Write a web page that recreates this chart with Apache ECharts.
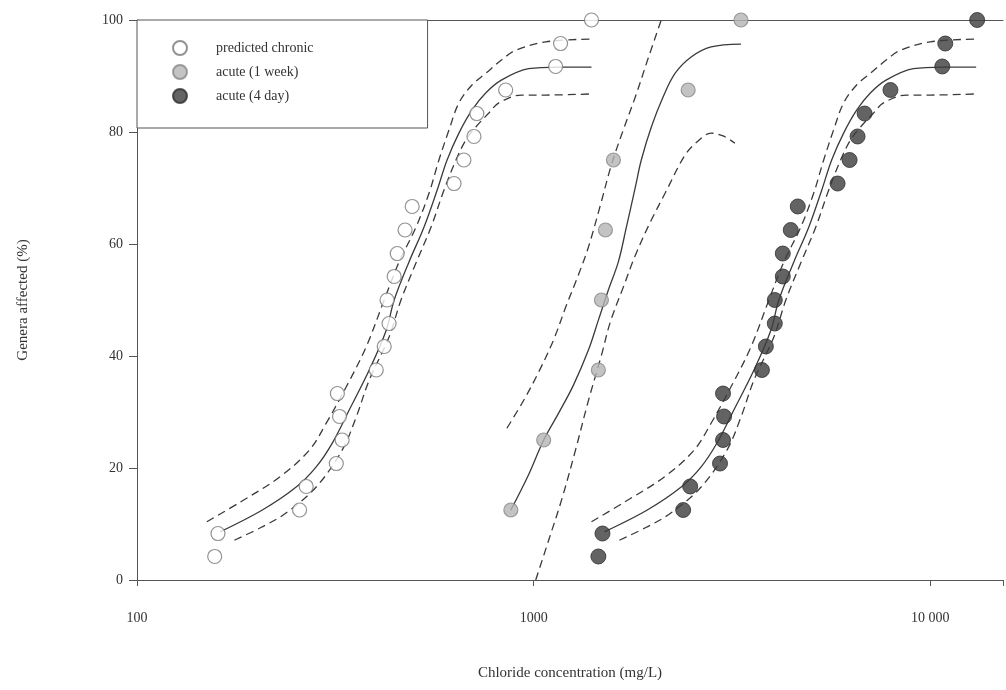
<!DOCTYPE html>
<html>
<head>
<meta charset="utf-8">
<script src="https://cdn.jsdelivr.net/npm/echarts@6/dist/echarts.min.js"></script>
<style>
  html, body { margin: 0; padding: 0; background: #fff; }
  #chart { width: 1006px; height: 690px; }
</style>
</head>
<body>
<div id="chart"></div>
<script>
// Observed points: [chloride mg/L, % genera affected]
const chronicPts = [
  [157, 4.2], [160, 8.3], [257, 12.5], [267, 16.7], [318, 20.8], [329, 25.0],
  [324, 29.2], [320, 33.3], [401, 37.5], [420, 41.7], [432, 45.8], [427, 50.0],
  [445, 54.2], [453, 58.3], [474, 62.5], [494, 66.7], [630, 70.8], [667, 75.0],
  [707, 79.2], [719, 83.3], [850, 87.5], [1136, 91.7], [1169, 95.8], [1399, 100]
];
const acute1wPts = [
  [876, 12.5], [1060, 25.0], [1456, 37.5], [1482, 50.0],
  [1517, 62.5], [1589, 75.0], [2452, 87.5], [3332, 100]
];
const acute4dPts = [
  [1456, 4.2], [1491, 8.3], [2382, 12.5], [2481, 16.7], [2950, 20.8], [3002, 25.0],
  [3020, 29.2], [3002, 33.3], [3763, 37.5], [3850, 41.7], [4055, 45.8], [4055, 50.0],
  [4247, 54.2], [4247, 58.3], [4448, 62.5], [4633, 66.7], [5838, 70.8], [6260, 75.0],
  [6556, 79.2], [6829, 83.3], [7934, 87.5], [10720, 91.7], [10907, 95.8], [13126, 100]
];

// Fitted curves with upper / lower confidence bands
const chronicFit = [
  [162, 8.6], [207, 12.5], [252, 16.6], [283, 20.2], [311, 24.5], [343, 30.4],
  [385, 37.5], [425, 44.6], [445, 50.0], [485, 56.8], [529, 63.0], [571, 69.6],
  [605, 75.0], [648, 79.8], [699, 83.9], [758, 87.0], [831, 89.3], [971, 91.3],
  [1156, 91.6], [1399, 91.6]
];
const chronicUpper = [
  [150, 10.4], [182, 13.9], [229, 18.4], [272, 23.2], [300, 28.0], [337, 34.5],
  [378, 41.6], [420, 50.0], [458, 56.8], [505, 63.0], [545, 69.1], [577, 75.0],
  [612, 80.4], [648, 85.2], [699, 88.4], [758, 90.5], [831, 92.9], [901, 94.6],
  [1072, 96.1], [1399, 96.6]
];
const chronicLower = [
  [176, 7.1], [207, 9.5], [238, 12.0], [283, 16.6], [329, 23.2], [357, 29.1],
  [385, 35.7], [432, 43.4], [463, 50.0], [505, 56.6], [551, 63.0], [594, 69.6],
  [637, 75.0], [675, 78.6], [715, 80.9], [771, 83.4], [817, 85.2], [933, 86.6],
  [1072, 86.6], [1399, 86.8]
];

const acute1wFit = [
  [876, 12.5], [971, 18.8], [1060, 25.0], [1156, 29.8], [1260, 34.8], [1375, 41.1],
  [1456, 46.4], [1543, 51.8], [1635, 56.8], [1713, 63.0], [1805, 70.2], [1868, 75.0],
  [1980, 80.9], [2121, 86.3], [2274, 90.5], [2495, 93.4], [2801, 95.2], [3332, 95.7]
];
const acute1wUpper = [
  [856, 27.1], [944, 32.1], [1029, 37.1], [1123, 42.9], [1210, 49.1], [1297, 54.5],
  [1375, 59.5], [1474, 67.0], [1570, 74.1], [1683, 80.4], [1805, 86.3], [1945, 93.2],
  [2097, 100]
];
const acute1wLower = [
  [1012, 0], [1091, 7.1], [1176, 14.3], [1275, 23.2], [1375, 32.1], [1483, 40.2],
  [1561, 46.1], [1683, 52.3], [1805, 58.0], [1968, 63.9], [2146, 69.1], [2409, 75.9],
  [2598, 78.4], [2801, 79.8], [3002, 79.3], [3217, 78.0]
];

const acute4dFit = [
  [1508, 8.6], [1934, 12.5], [2355, 16.6], [2644, 20.2], [2901, 24.5], [3199, 30.4],
  [3593, 37.5], [3964, 44.6], [4151, 50.0], [4528, 56.8], [4938, 63.0], [5324, 69.6],
  [5641, 75.0], [6046, 79.8], [6521, 83.9], [7069, 87.0], [7753, 89.3], [9063, 91.3],
  [10782, 91.6], [13049, 91.6]
];
const acute4dUpper = [
  [1399, 10.4], [1693, 13.9], [2135, 18.4], [2539, 23.2], [2801, 28.0], [3145, 34.5],
  [3530, 41.6], [3918, 50.0], [4273, 56.8], [4714, 63.0], [5083, 69.1], [5385, 75.0],
  [5706, 80.4], [6046, 85.2], [6521, 88.4], [7069, 90.5], [7753, 92.9], [8407, 94.6],
  [10002, 96.1], [13049, 96.6]
];
const acute4dLower = [
  [1645, 7.1], [1934, 9.5], [2222, 12.0], [2644, 16.6], [3072, 23.2], [3332, 29.1],
  [3593, 35.7], [4032, 43.4], [4323, 50.0], [4714, 56.6], [5142, 63.0], [5542, 69.6],
  [5941, 75.0], [6296, 78.6], [6671, 80.9], [7193, 83.4], [7620, 85.2], [8704, 86.6],
  [10002, 86.6], [13049, 86.8]
];

const xTickLabels = { 100: '100', 1000: '1000', 10000: '10 000' };
const yTicks = [0, 20, 40, 60, 80, 100];

const serif = 'Liberation Serif';
const ink = '#3a3a3a';

function fitLine(data, dashed) {
  return {
    type: 'line', data: data, smooth: 0.35, symbol: 'none', silent: true,
    z: 2,
    lineStyle: { color: ink, width: 1.3, type: dashed ? [8, 5] : 'solid' }
  };
}

const chart = echarts.init(document.getElementById('chart'), null, { renderer: 'canvas' });
chart.setOption({
  animation: false,
  backgroundColor: '#fff',
  grid: { left: 137, right: 0, top: 20, bottom: 110 },
  legend: {
    orient: 'vertical', left: 137, top: 20,
    padding: [20, 114, 24, 35], itemGap: 8, itemWidth: 14, itemHeight: 14,
    borderColor: '#555', borderWidth: 1, backgroundColor: '#fff',
    textStyle: { fontFamily: serif, fontSize: 14, color: '#333', padding: [0, 0, 0, 24] },
    data: ['predicted chronic', 'acute (1 week)', 'acute (4 day)']
  },
  xAxis: [{
    type: 'log', logBase: 10, min: 100, max: 15250,
    name: 'Chloride concentration (mg/L)', nameLocation: 'middle', nameGap: 86,
    nameTextStyle: { fontFamily: serif, fontSize: 15, color: '#333' },
    axisLine: { lineStyle: { color: '#555', width: 1 } },
    axisTick: { length: 6, lineStyle: { color: '#555' } },
    minorTick: { show: false },
    splitLine: { show: false },
    axisLabel: {
      margin: 31, fontFamily: serif, fontSize: 14, color: '#333',
      formatter: function (v) { return xTickLabels[Math.round(v)] || ''; }
    }
  }, {
    type: 'log', logBase: 10, min: 100, max: 15250, position: 'top',
    axisLine: { lineStyle: { color: '#555', width: 1 } },
    axisTick: { show: false }, axisLabel: { show: false }, splitLine: { show: false }
  }],
  yAxis: {
    type: 'value', min: yTicks[0], max: yTicks[yTicks.length - 1], interval: 20,
    name: 'Genera affected (%)', nameLocation: 'middle', nameGap: 106,
    nameTextStyle: { fontFamily: serif, fontSize: 15, color: '#333' },
    axisLine: { show: true, lineStyle: { color: '#555', width: 1 } },
    axisTick: { show: true, length: 8, lineStyle: { color: '#555' } },
    splitLine: { show: false },
    axisLabel: { margin: 14, fontFamily: serif, fontSize: 14, color: '#333' }
  },
  series: [
    fitLine(chronicFit, false), fitLine(chronicUpper, true), fitLine(chronicLower, true),
    fitLine(acute1wFit, false), fitLine(acute1wUpper, true), fitLine(acute1wLower, true),
    fitLine(acute4dFit, false), fitLine(acute4dUpper, true), fitLine(acute4dLower, true),
    {
      name: 'predicted chronic', type: 'scatter', data: chronicPts, symbol: 'circle',
      symbolSize: 14, z: 5,
      itemStyle: { color: '#fff', borderColor: '#777', borderWidth: 1.2 }
    },
    {
      name: 'acute (1 week)', type: 'scatter', data: acute1wPts, symbol: 'circle',
      symbolSize: 14, z: 5,
      itemStyle: { color: '#b4b4b4', borderColor: '#888', borderWidth: 1.2 }
    },
    {
      name: 'acute (4 day)', type: 'scatter', data: acute4dPts, symbol: 'circle',
      symbolSize: 15, z: 5,
      itemStyle: { color: '#3c3c3c', borderColor: '#2e2e2e', borderWidth: 1 }
    }
  ]
});
</script>
</body>
</html>
